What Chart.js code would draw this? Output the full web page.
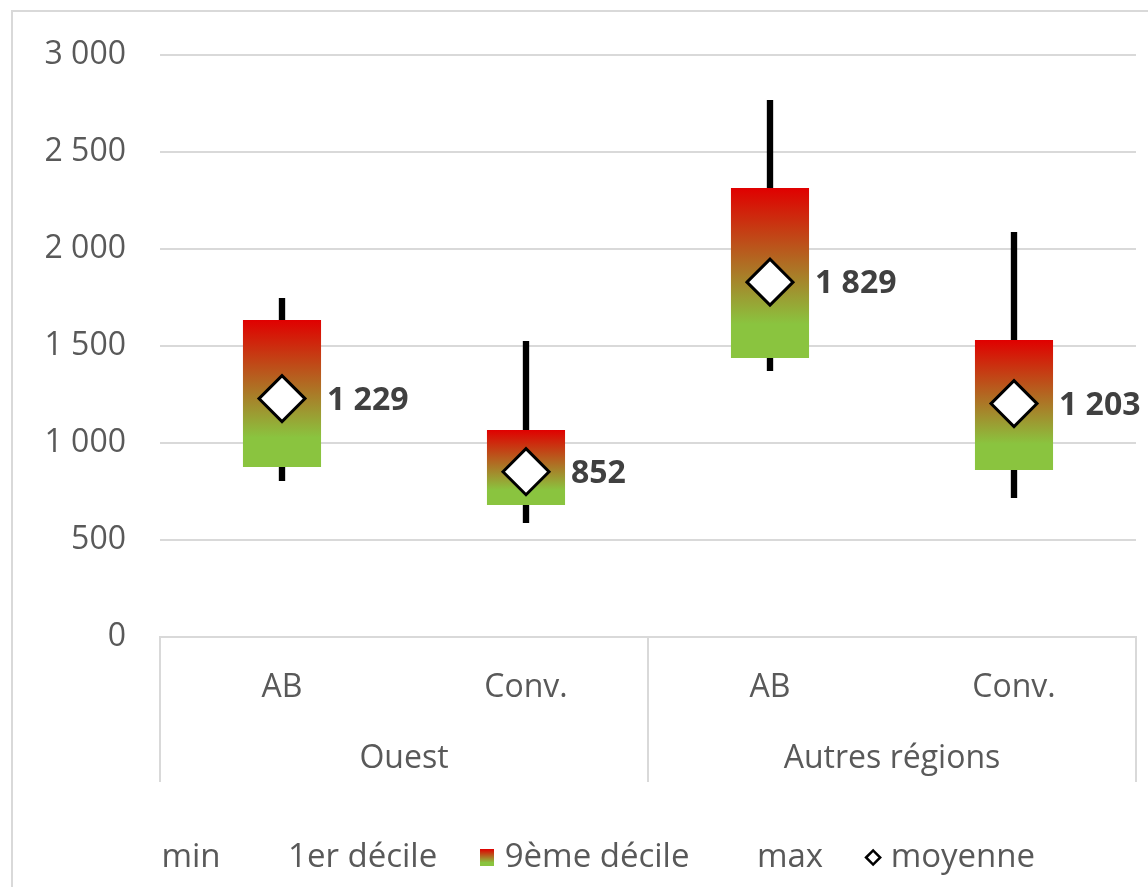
<!DOCTYPE html>
<html>
<head>
<title>Déciles</title>
<style>
  body { margin: 0; background: #ffffff; overflow: hidden; }
  #frame {
    position: absolute; left: 11px; top: 10px; width: 1200px; height: 950px;
    border-left: 2px solid #d9d9d9; border-top: 2px solid #d9d9d9;
  }
  #myChart { position: absolute; left: 0; top: 0; }
</style>
</head>
<body>
<div id="frame"></div>
<canvas id="myChart" width="1148" height="887"></canvas>
<script src="https://cdn.jsdelivr.net/npm/chart.js@4.4.1/dist/chart.umd.min.js"></script>
<script type="text/javascript">

  // data
  var categories = ['AB', 'Conv.', 'AB', 'Conv.'];
  var groups = ['Ouest', 'Autres régions'];
  var minVals = [804, 588, 1371, 716];
  var d1Vals = [876, 680, 1438, 861];
  var d9Vals = [1634, 1067, 2314, 1531];
  var maxVals = [1747, 1526, 2768, 2088];
  var meanVals = [1229, 852, 1829, 1203];
  var legendLabels = ['min', '1er décile', '9ème décile', 'max', 'moyenne'];
  var yTicks = { min: 0, max: 3000, step: 500 };

  var FONT = "'Open Sans', sans-serif";
  var GREY = '#595959';

  function fmt(v) {
    return String(Math.round(v)).replace(/\B(?=(\d{3})+(?!\d))/g, ' ');
  }

  function addStops(g) {
    g.addColorStop(0, '#e00000');
    g.addColorStop(0.8, '#8ac43f');
    g.addColorStop(1, '#8ac43f');
    return g;
  }

  // small gradient square for the legend
  var legendSwatch = document.createElement('canvas');
  legendSwatch.width = 14;
  legendSwatch.height = 17;
  var sctx = legendSwatch.getContext('2d');
  sctx.fillStyle = addStops(sctx.createLinearGradient(0, 0, 0, 17));
  sctx.fillRect(0, 0, 14, 17);

  var boxData = [], whiskerData = [];
  for (var i = 0; i < categories.length; i++) {
    boxData.push([d1Vals[i], d9Vals[i]]);
    whiskerData.push([minVals[i], maxVals[i]]);
  }

  function boxColor(c) {
    var chart = c.chart;
    if (!chart.chartArea || !c.raw) return '#c0561a';
    var y = chart.scales.y;
    var top = y.getPixelForValue(c.raw[1]);
    var bottom = y.getPixelForValue(c.raw[0]);
    return addStops(chart.ctx.createLinearGradient(0, top, 0, bottom));
  }

  function noSidePad(s) {
    s.paddingLeft = 0;
    s.paddingRight = 0;
  }

  var separators = {
    id: 'separators',
    afterDraw: function (chart) {
      var x = chart.scales.x;
      var ctx = chart.ctx;
      var mid = (x.getPixelForValue(1) + x.getPixelForValue(2)) / 2;
      var xs = [x.left, mid, x.right];
      ctx.save();
      ctx.strokeStyle = '#d9d9d9';
      ctx.lineWidth = 2;
      for (var k = 0; k < xs.length; k++) {
        ctx.beginPath();
        ctx.moveTo(xs[k], chart.chartArea.bottom);
        ctx.lineTo(xs[k], chart.chartArea.bottom + 145);
        ctx.stroke();
      }
      ctx.restore();
    }
  };

  var meanLabels = {
    id: 'meanLabels',
    afterDatasetsDraw: function (chart) {
      var meta = chart.getDatasetMeta(2);
      var ctx = chart.ctx;
      ctx.save();
      ctx.font = "bold 32px " + FONT;
      ctx.fillStyle = '#404040';
      ctx.textBaseline = 'middle';
      ctx.textAlign = 'left';
      meta.data.forEach(function (pt, idx) {
        ctx.fillText(fmt(meanVals[idx]), pt.x + 45, pt.y + 2);
      });
      ctx.restore();
    }
  };

  var config = {
    type: 'bar',
    data: {
      labels: categories,
      datasets: [{
        label: 'min - max',
        data: whiskerData,
        backgroundColor: '#000000',
        barPercentage: 0.026,
        categoryPercentage: 1,
        grouped: false,
        xAxisID: 'x',
        order: 3
      }, {
        label: '1er - 9ème décile',
        data: boxData,
        backgroundColor: boxColor,
        barPercentage: 0.32,
        categoryPercentage: 1,
        grouped: false,
        xAxisID: 'x',
        order: 2
      }, {
        type: 'line',
        label: 'moyenne',
        data: meanVals,
        showLine: false,
        pointStyle: 'rectRot',
        pointRadius: 23,
        pointHoverRadius: 23,
        pointBackgroundColor: '#ffffff',
        pointBorderColor: '#000000',
        pointBorderWidth: 3,
        xAxisID: 'x',
        order: 1
      }]
    },
    options: {
      responsive: false,
      devicePixelRatio: 1,
      animation: false,
      layout: { autoPadding: false, padding: { left: 42, right: 12, top: 55, bottom: 3 } },
      plugins: {
        tooltip: { enabled: false },
        legend: {
          position: 'bottom',
          onClick: null,
          labels: {
            usePointStyle: true,
            boxWidth: 2,
            boxHeight: 10,
            padding: 49,
            color: GREY,
            font: { family: FONT, size: 33 },
            generateLabels: function () {
              return legendLabels.map(function (t, k) {
                var item = {
                  text: t,
                  fillStyle: 'rgba(0,0,0,0)',
                  strokeStyle: 'rgba(0,0,0,0)',
                  lineWidth: 0,
                  pointStyle: 'circle',
                  fontColor: GREY,
                  hidden: false,
                  datasetIndex: 0
                };
                if (k === 2) item.pointStyle = legendSwatch;
                if (k === 4) {
                  item.pointStyle = 'rectRot';
                  item.fillStyle = '#ffffff';
                  item.strokeStyle = '#000000';
                  item.lineWidth = 2.5;
                }
                return item;
              });
            }
          }
        }
      },
      scales: {
        x: {
          type: 'category',
          position: 'bottom',
          weight: 0,
          offset: true,
          grid: { display: false },
          border: { display: true, color: '#d9d9d9', width: 2 },
          ticks: { color: GREY, font: { family: FONT, size: 32 }, padding: 24 },
          afterFit: function (s) { s.height = 67; noSidePad(s); }
        },
        x2: {
          type: 'category',
          position: 'bottom',
          weight: 1,
          labels: groups,
          offset: true,
          grid: { display: false },
          border: { display: false },
          ticks: { color: GREY, font: { family: FONT, size: 32 }, padding: 28 },
          afterFit: function (s) { s.height = 88; noSidePad(s); }
        },
        y: {
          min: yTicks.min,
          max: yTicks.max,
          grid: { color: '#d9d9d9', lineWidth: 2, drawTicks: false },
          border: { display: false },
          ticks: {
            stepSize: yTicks.step,
            padding: 34,
            color: GREY,
            font: { family: FONT, size: 32 },
            callback: function (v) { return fmt(v); }
          },
          afterFit: function (s) { s.width = 118; }
        }
      }
    },
    plugins: [separators, meanLabels]
  };

  window.onload = function () {
    var ctx = document.getElementById('myChart').getContext('2d');
    window.myChart = new Chart(ctx, config);
  };

</script>
</body>
</html>
